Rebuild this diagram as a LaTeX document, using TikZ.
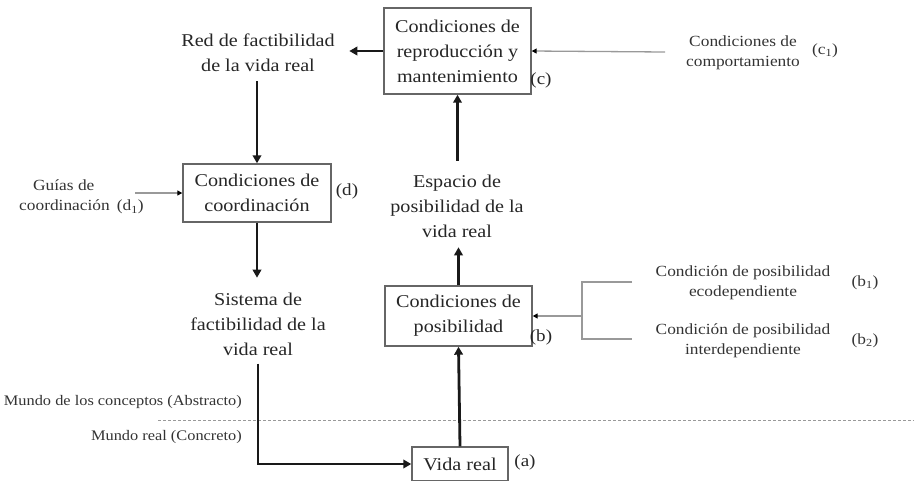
\documentclass[tikz,border=0pt]{standalone}
\usepackage{fontspec}
\setmainfont{Liberation Serif}[FakeStretch=1.12]
\usetikzlibrary{arrows.meta,calc}
\begin{document}
\begin{tikzpicture}[x=1pt,y=-1pt,
  txt/.style={font=\fontsize{18}{25}\selectfont, text=black!85, align=center, inner sep=0pt},
  small/.style={font=\fontsize{15.5}{20.5}\selectfont, text=black!80, align=center, inner sep=0pt},
  smaller/.style={font=\fontsize{14.6}{20}\selectfont, text=black!80, inner sep=0pt},
  boxed/.style={draw=black!60, line width=1.4pt, fill=white, align=center, inner sep=0pt,
    font=\fontsize{18}{25}\selectfont, text=black!85},
  bigarrow/.style={line width=2.8pt, black!90, -{Triangle[length=8pt,width=8.5pt]}},
  thinarrow/.style={line width=1.3pt, black!40, -{Triangle[length=5pt,width=5pt,color=black]}},
  thinline/.style={line width=1.3pt, black!40},
  lbl/.style={font=\fontsize{17}{20}\selectfont, text=black!85, inner sep=0pt}
]
\useasboundingbox (0,0) rectangle (914,480);

% boxes
\node[boxed, minimum width=147pt, minimum height=86pt] (c) at (457.5,51) {Condiciones de\\reproducción y\\mantenimiento};
\node[boxed, minimum width=148pt, minimum height=58pt] (d) at (257,193) {Condiciones de\\coordinación};
\node[boxed, minimum width=147pt, minimum height=60pt] (b) at (458.5,316) {Condiciones de\\posibilidad};
\node[boxed, minimum width=96pt, minimum height=34pt] (a) at (460,464) {Vida real};

% text nodes
\node[txt] (red) at (258,53) {Red de factibilidad\\de la vida real};
\node[txt] (sis) at (258,324) {Sistema de\\factibilidad de la\\vida real};
\node[txt] (esp) at (457,206) {Espacio de\\posibilidad de la\\vida real};

% letter labels
\node[lbl] (lc) at (541,80) {(c)};
\node[lbl] (ld) at (347,191) {(d)};
\node[lbl] (lb) at (541,337) {(b)};
\node[lbl] (la) at (525,462) {(a)};

% small labels
\node[small] (c1t) at (743,53) {Condiciones de\\comportamiento};
\node[small] (c1l) at (825,51) {(c\textsubscript{1})};
\node[small, align=left, anchor=west] (gd) at (19,197) {\hspace*{14pt}Guías de\\coordinación\hspace{7pt}(d\textsubscript{1})};
\node[small] (b1t) at (743,283) {Condición de posibilidad\\ecodependiente};
\node[small] (b1l) at (865,283) {(b\textsubscript{1})};
\node[small] (b2t) at (743,341) {Condición de posibilidad\\interdependiente};
\node[small] (b2l) at (865,341) {(b\textsubscript{2})};
\node[smaller, anchor=east] (mc) at (242,402) {Mundo de los conceptos\hspace{4pt}(Abstracto)};
\node[smaller, anchor=east] (mr) at (242,437) {Mundo real (Concreto)};

% coordinates
\coordinate (gdend) at (135,193);
\coordinate (c1end) at (665,52);
\coordinate (brT) at (632,282);
\coordinate (brB) at (632,339);
\coordinate (brM) at (582,316);
\coordinate (dl) at (158,420);
\coordinate (dr) at (914,420);

% dashed separator
\draw[black!40, line width=1pt, dash pattern=on 3pt off 2pt] (dl) -- (dr);

% thick arrows
\draw[bigarrow] (c.west) -- ($(c.west)+(-34,0)$);
\draw[bigarrow] ($(d.north)+(0,-82)$) -- (d.north);
\draw[bigarrow] (d.south) -- ($(d.south)+(0,55)$);
\draw[bigarrow] ($(sis.south)+(0,8)$) |- (a.west);
\draw[bigarrow] (a.north) -- (b.south);
\draw[bigarrow] (b.north) -- ($(b.north)+(0,-38)$);
\draw[bigarrow] ($(c.south)+(0,66)$) -- (c.south);

% thin arrows
\draw[thinarrow] (gdend) -- (d.west);
\draw[thinarrow] (c1end) -- (c.east);
\draw[thinline] (brT) -| (brM) |- (brB);
\draw[thinarrow] (brM) -- (b.east);
\end{tikzpicture}
\end{document}
